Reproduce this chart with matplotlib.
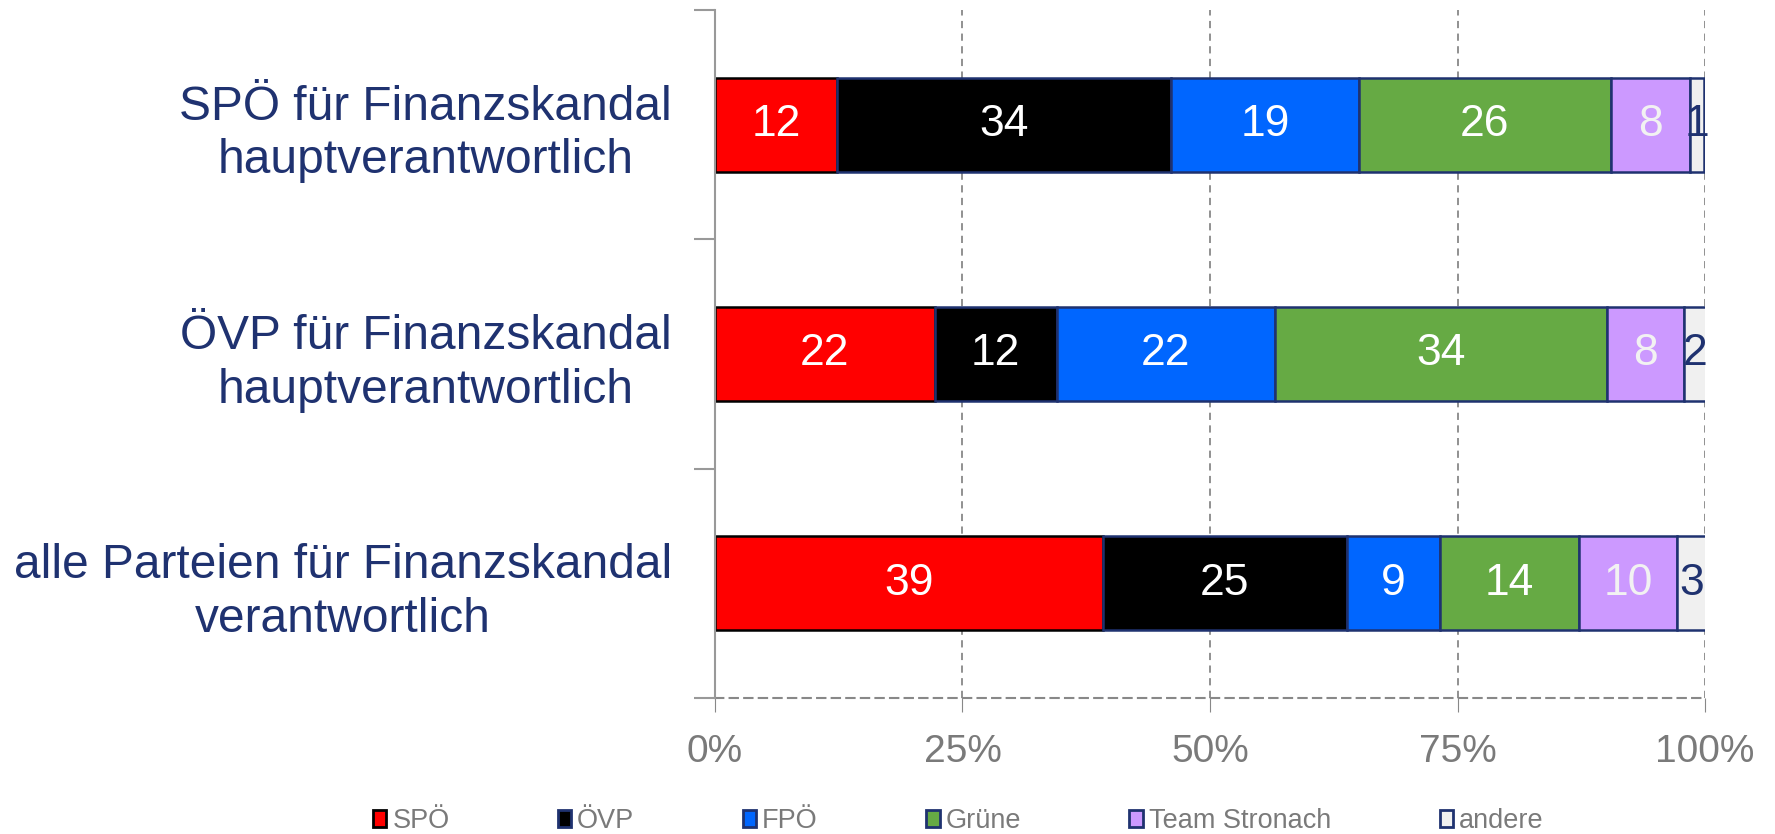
import matplotlib
matplotlib.use("Agg")
import matplotlib.pyplot as plt
import matplotlib.transforms as mtransforms
from matplotlib.patches import Patch
from matplotlib.ticker import FixedLocator

plt.rcParams['font.family'] = ['Liberation Sans', 'DejaVu Sans']

# Daten (Prozent)
kategorien = ['SPÖ für Finanzskandal\nhauptverantwortlich',
              'ÖVP für Finanzskandal\nhauptverantwortlich',
              'alle Parteien für Finanzskandal\nverantwortlich']
parteien = ['SPÖ', 'ÖVP', 'FPÖ', 'Grüne', 'Team Stronach', 'andere']
spoe = [12.3, 22.2, 39.2]
oevp = [33.8, 12.3, 24.6]
fpoe = [18.9, 22.1, 9.4]
gruene = [25.5, 33.5, 14.1]
stronach = [8.0, 7.8, 9.9]
andere = [1.4, 2.2, 3.0]
werte = [spoe, oevp, fpoe, gruene, stronach, andere]
xticks = [0, 25, 50, 75, 100]
xticklabels = ['0%', '25%', '50%', '75%', '100%']

farben = ['#FF0000', '#000000', '#0066FF', '#66AA44', '#CC99FF', '#F0F0F0']
kanten = ['#000000', '#1F3270', '#1F3270', '#1F3270', '#1F3270', '#1F3270']
textfarben = ['white', 'white', 'white', 'white', '#F2F2F2', '#1F3270']
navy = '#1F3270'
grau = '#7A7A7A'

fig = plt.figure(figsize=(17.75, 8.34), dpi=100)
ax = fig.add_axes([0.4028, 0.1631, 0.9606 - 0.4028, 0.988 - 0.1631])

y = list(range(len(kategorien)))
links = [0.0] * len(kategorien)
handles = []
for i, serie in enumerate(werte):
    balken = ax.barh(y, serie, left=links, height=0.41, color=farben[i],
                     edgecolor=kanten[i], linewidth=1.8, zorder=3)
    for b, v in zip(balken, serie):
        ax.text(b.get_x() + b.get_width() / 2, b.get_y() + b.get_height() / 2,
                '%.0f' % v, ha='center', va='center', fontsize=32,
                color=textfarben[i], zorder=4)
    links = [l + v for l, v in zip(links, serie)]
    handles.append(Patch(facecolor=farben[i], edgecolor=kanten[i], linewidth=2))

ax.set_xlim(0, 100)
ax.set_ylim(len(kategorien) - 0.5, -0.5)

ax.set_xticks(xticks)
ax.set_xticklabels(xticklabels, fontsize=28, color=grau)
ax.tick_params(axis='x', length=10, color='#888888', pad=16)
for t in ax.xaxis.get_ticklines():
    t.set_linestyle((0, (3, 2)))

ax.set_yticks(y)
ax.set_yticklabels(kategorien, fontsize=34.5, color=navy)
hoch = mtransforms.ScaledTranslation(0, 4 / 72, fig.dpi_scale_trans)
for t in ax.get_yticklabels():
    t.set_multialignment('center')
    t.set_linespacing(1.25)
    t.set_transform(t.get_transform() + hoch)
ax.tick_params(axis='y', which='major', length=0, pad=31)
ax.yaxis.set_minor_locator(FixedLocator([-0.5, 0.5, 1.5, 2.5]))
ax.tick_params(axis='y', which='minor', length=15, width=1.5, color='#999999')

ax.grid(axis='x', color='#888888', linestyle=(0, (4, 3)), linewidth=1.3, zorder=0)
for s in ['top', 'right']:
    ax.spines[s].set_visible(False)
ax.spines['left'].set_color('#999999')
ax.spines['left'].set_linewidth(1.5)
ax.spines['left'].set_zorder(5)
ax.spines['bottom'].set_color('#888888')
ax.spines['bottom'].set_linestyle((0, (4, 3)))
ax.spines['bottom'].set_linewidth(1.5)

fig.legend(handles=handles, labels=parteien, loc='center left', ncol=6,
           bbox_to_anchor=(0.2100, 0.0155), frameon=False,
           fontsize=19.5, labelcolor=grau, handlelength=0.5,
           handleheight=0.55, handletextpad=0.22, columnspacing=4.0,
           borderpad=0, borderaxespad=0)

fig.savefig('out.png', dpi=100)
